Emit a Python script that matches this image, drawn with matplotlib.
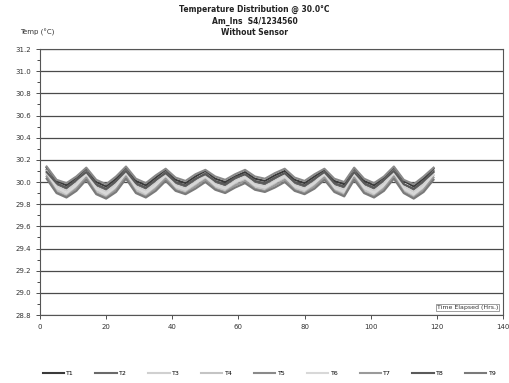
import matplotlib
matplotlib.use("Agg")
import matplotlib.pyplot as plt
from matplotlib.ticker import MultipleLocator

# Elapsed time (hrs) and sensor readings (deg C)
hours = [2, 5, 8, 11, 14, 17, 20, 23, 26, 29, 32, 35, 38, 41, 44, 47, 50, 53, 56, 59,
         62, 65, 68, 71, 74, 77, 80, 83, 86, 89, 92, 95, 98, 101, 104, 107, 110, 113, 116, 119]

t1 = [30.13, 30.01, 29.97, 30.04, 30.12, 30.00, 29.96, 30.03, 30.13, 30.01, 29.97, 30.04,
      30.11, 30.02, 29.99, 30.05, 30.10, 30.03, 30.00, 30.05, 30.09, 30.03, 30.01, 30.06,
      30.10, 30.02, 29.99, 30.05, 30.11, 30.01, 29.98, 30.12, 30.01, 29.97, 30.04, 30.13,
      30.01, 29.96, 30.03, 30.12]
t2 = [30.11, 29.98, 29.94, 30.01, 30.10, 29.97, 29.93, 30.00, 30.11, 29.98, 29.94, 30.01,
      30.09, 29.99, 29.96, 30.02, 30.08, 30.00, 29.97, 30.03, 30.07, 30.00, 29.98, 30.03,
      30.08, 29.99, 29.96, 30.02, 30.09, 29.98, 29.95, 30.10, 29.98, 29.94, 30.01, 30.11,
      29.98, 29.93, 30.00, 30.10]
t3 = [30.10, 29.96, 29.92, 29.99, 30.09, 29.95, 29.91, 29.98, 30.10, 29.96, 29.92, 29.99,
      30.07, 29.97, 29.94, 30.00, 30.06, 29.98, 29.95, 30.01, 30.05, 29.98, 29.96, 30.01,
      30.06, 29.97, 29.94, 30.00, 30.08, 29.96, 29.93, 30.09, 29.96, 29.92, 29.99, 30.10,
      29.96, 29.91, 29.98, 30.09]
t4 = [30.07, 29.93, 29.89, 29.96, 30.06, 29.92, 29.88, 29.95, 30.07, 29.93, 29.89, 29.96,
      30.05, 29.95, 29.92, 29.98, 30.04, 29.96, 29.93, 29.99, 30.03, 29.96, 29.94, 29.99,
      30.04, 29.95, 29.92, 29.98, 30.05, 29.93, 29.90, 30.06, 29.93, 29.89, 29.96, 30.07,
      29.93, 29.88, 29.95, 30.06]
t5 = [30.14, 30.02, 29.99, 30.05, 30.13, 30.02, 29.98, 30.05, 30.14, 30.03, 29.99, 30.06,
      30.12, 30.04, 30.01, 30.07, 30.11, 30.05, 30.02, 30.07, 30.11, 30.05, 30.03, 30.08,
      30.12, 30.04, 30.01, 30.07, 30.12, 30.03, 30.00, 30.13, 30.03, 29.99, 30.05, 30.14,
      30.02, 29.98, 30.05, 30.13]
t6 = [30.08, 29.95, 29.90, 29.97, 30.07, 29.94, 29.89, 29.96, 30.08, 29.95, 29.90, 29.97,
      30.06, 29.96, 29.93, 29.99, 30.05, 29.97, 29.94, 30.00, 30.04, 29.97, 29.95, 30.00,
      30.05, 29.96, 29.93, 29.99, 30.07, 29.95, 29.91, 30.07, 29.95, 29.90, 29.97, 30.08,
      29.94, 29.89, 29.96, 30.07]
t7 = [30.05, 29.91, 29.87, 29.94, 30.04, 29.90, 29.86, 29.93, 30.05, 29.91, 29.87, 29.94,
      30.03, 29.93, 29.90, 29.96, 30.02, 29.94, 29.91, 29.97, 30.01, 29.94, 29.92, 29.97,
      30.02, 29.93, 29.90, 29.96, 30.04, 29.92, 29.88, 30.04, 29.91, 29.87, 29.94, 30.05,
      29.91, 29.86, 29.93, 30.04]
t8 = [30.09, 29.99, 29.95, 30.02, 30.09, 29.98, 29.94, 30.01, 30.10, 29.99, 29.95, 30.02,
      30.08, 30.00, 29.97, 30.03, 30.07, 30.01, 29.98, 30.04, 30.07, 30.01, 29.99, 30.04,
      30.08, 30.00, 29.97, 30.03, 30.09, 29.99, 29.96, 30.09, 29.99, 29.95, 30.02, 30.10,
      29.98, 29.94, 30.01, 30.09]
t9 = [30.03, 29.90, 29.86, 29.92, 30.02, 29.89, 29.85, 29.91, 30.03, 29.90, 29.86, 29.92,
      30.01, 29.92, 29.89, 29.94, 30.00, 29.93, 29.90, 29.95, 29.99, 29.93, 29.91, 29.95,
      30.00, 29.92, 29.89, 29.94, 30.02, 29.91, 29.87, 30.02, 29.90, 29.86, 29.92, 30.03,
      29.90, 29.85, 29.91, 30.02]

series = [t1, t2, t3, t4, t5, t6, t7, t8, t9]
names = ["T1", "T2", "T3", "T4", "T5", "T6", "T7", "T8", "T9"]
colors = ['#3a3a3a', '#6a6a6a', '#d0d0d0', '#c4c4c4', '#8a8a8a',
          '#d8d8d8', '#9a9a9a', '#5a5a5a', '#7a7a7a']

fig = plt.figure(figsize=(5.09, 3.83), dpi=100)
ax = fig.add_axes([0.0786, 0.1775, 0.9096, 0.6945])

for vals, name, c in zip(series, names, colors):
    ax.plot(hours, vals, color=c, linewidth=1.5, label=name)

ax.set_xlim(0, 140)
ax.set_ylim(28.8, 31.2)
ax.xaxis.set_major_locator(MultipleLocator(20))
ax.yaxis.set_major_locator(MultipleLocator(0.2))
ax.yaxis.set_minor_locator(MultipleLocator(0.1))
ax.yaxis.set_major_formatter(plt.FormatStrFormatter('%.1f'))
ax.tick_params(axis='both', labelsize=5, length=3, width=0.6, colors='#333333')
ax.tick_params(axis='y', which='minor', length=2, width=0.5)
ax.grid(axis='y', color='#4a4a4a', linewidth=0.9)
for s in ax.spines.values():
    s.set_color('#555555')
    s.set_linewidth(0.8)

ax.text(0.99, 0.02, "Time Elapsed (Hrs.)", transform=ax.transAxes, ha='right', va='bottom',
        fontsize=4.5, color='#333333',
        bbox=dict(boxstyle='square,pad=0.15', fc='white', ec='#777777', lw=0.5))

fig.text(0.04, 0.915, "Temp (\u00b0C)", fontsize=5, color='#333333', ha='left', va='center')
fig.text(0.5, 0.975, "Temperature Distribution @ 30.0\u00b0C", fontsize=5.5, fontweight='bold',
         ha='center', va='center', color='#222222')
fig.text(0.5, 0.945, "Am_Ins  S4/1234560", fontsize=5.5, fontweight='bold',
         ha='center', va='center', color='#222222')
fig.text(0.5, 0.915, "Without Sensor", fontsize=5.5, fontweight='bold',
         ha='center', va='center', color='#222222')

fig.legend(loc='center', bbox_to_anchor=(0.53, 0.025), ncol=9, fontsize=4.5, frameon=False,
           handlelength=3.4, columnspacing=3.4, handletextpad=0.4)

fig.savefig("out.png", dpi=100, facecolor='white')
